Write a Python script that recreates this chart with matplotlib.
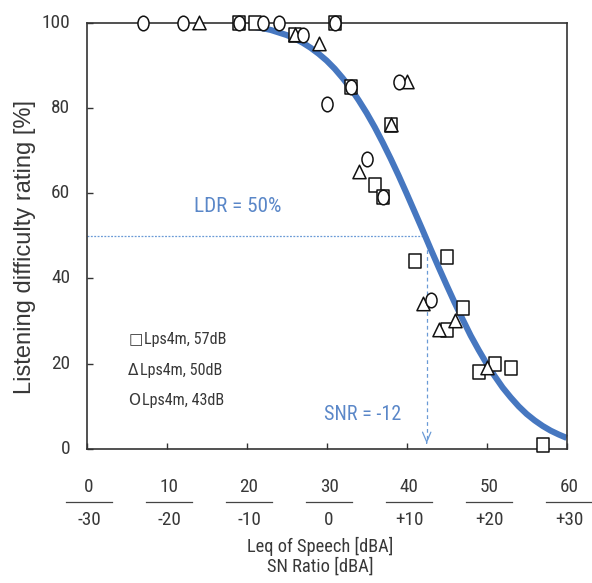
import matplotlib
matplotlib.use("Agg")
import matplotlib.pyplot as plt
from matplotlib.path import Path
from matplotlib.textpath import TextPath
from matplotlib import font_manager
from matplotlib.font_manager import FontProperties

# ---- data -------------------------------------------------------------
# Lps4m 57 dB (squares)
sq_x = [19, 21, 26, 31, 33, 36, 37, 38, 41, 45, 45, 47, 49, 51, 53, 57]
sq_y = [100, 100, 97, 100, 85, 62, 59, 76, 44, 45, 28, 33, 18, 20, 19, 1]
# Lps4m 50 dB (triangles)
tri_x = [14, 26, 29, 34, 38, 40, 42, 44, 46, 50]
tri_y = [100, 97, 95, 65, 76, 86, 34, 28, 30, 19]
# Lps4m 43 dB (circles)
cir_x = [7, 12, 19, 22, 24, 27, 30, 31, 33, 35, 37, 39, 43]
cir_y = [100, 100, 100, 100, 100, 97, 81, 100, 85, 68, 59, 86, 35]

# fitted listening-difficulty curve
curve_x = [21, 22, 23, 24, 25, 26, 27, 28, 29, 30, 31, 32, 33, 34, 35, 36,
           37, 38, 39, 40, 41, 42, 43, 44, 45, 46, 47, 48, 49, 50, 51, 52,
           53, 54, 55, 56, 57, 58, 59, 60]
curve_y = [99.0, 98.7, 98.3, 97.7, 97.1, 96.3, 95.3, 94.1, 92.7, 91.1, 89.2,
           87.0, 84.6, 81.8, 78.8, 75.5, 71.9, 68.1, 64.1, 59.9, 55.6, 51.3,
           46.9, 42.6, 38.4, 34.3, 30.4, 26.6, 23.2, 20.0, 17.1, 14.4, 12.1,
           10.0, 8.2, 6.7, 5.4, 4.3, 3.4, 2.6]

ldr_level = 50          # LDR = 50 %
leq_at_ldr = 42.5       # Leq of speech where the curve crosses 50 %

leq_ticks = [0, 10, 20, 30, 40, 50, 60]
leq_labels = ["0", "10", "20", "30", "40", "50", "60"]
snr_labels = ["-30", "-20", "-10", "0", "+10", "+20", "+30"]
y_ticks = [0, 20, 40, 60, 80, 100]

legend_marks = ["\u25a1", "\u0394", "O"]
legend_labels = ["Lps4m, 57dB", "Lps4m, 50dB", "Lps4m, 43dB"]


# ---- fonts --------------------------------------------------------------
def narrow_font():
    """Return a condensed sans font file if one is installed, else None."""
    prefs = ["Liberation Sans Narrow", "Noto Sans", "Open Sans", "Roboto",
             "DejaVu Sans", "Lato", "Inter"]
    found = []
    for f in font_manager.fontManager.ttflist:
        narrow = ("Narrow" in f.name or "Condensed" in f.name
                  or f.stretch in ("condensed", "semi-condensed"))
        if not narrow or f.style != "normal":
            continue
        if f.weight not in (400, "normal", "regular", "book"):
            continue
        if "Extra" in f.name or "Ultra" in f.name:
            continue
        rank = next((i for i, p in enumerate(prefs) if f.name.startswith(p)),
                    len(prefs))
        found.append((rank, f.fname))
    if found:
        return sorted(found)[0][1]
    return None


NARROW_FILE = narrow_font()


def fp(size):
    if NARROW_FILE:
        return FontProperties(fname=NARROW_FILE, size=size)
    return FontProperties(family="Liberation Sans", size=size)


# cap height of the chosen face, as a fraction of the font size
CAP_EM = TextPath((0, 0), "H", size=1, prop=fp(1)).get_extents().height
PX_PER_PT = 100 / 72

SYM = FontProperties(family="DejaVu Sans", size=11)

TXT = "#383838"
BLUE = "#4677c0"
BLUE_TXT = "#5a87c8"
BLUE_LINE = "#6a9ad6"

# ---- marker shapes (slightly narrow) -------------------------------------
sx = 0.76
circ = Path.unit_circle()
ellipse_marker = Path(circ.vertices * [sx, 1.0], circ.codes)
rect_marker = Path([(-sx, -1), (sx, -1), (sx, 1), (-sx, 1), (-sx, -1)],
                   [Path.MOVETO, Path.LINETO, Path.LINETO, Path.LINETO,
                    Path.CLOSEPOLY])
tri_marker = Path([(0, 1), (-0.9, -0.85), (0.9, -0.85), (0, 1)],
                  [Path.MOVETO, Path.LINETO, Path.LINETO, Path.CLOSEPOLY])

# ---- figure -------------------------------------------------------------
fig = plt.figure(figsize=(5.92, 5.83), dpi=100)
ax = fig.add_axes([86.7 / 592, 1 - 449 / 583, 480 / 592, 426.3 / 583])
ax.set_xlim(0, 60)
ax.set_ylim(0, 100)

for s in ax.spines.values():
    s.set_linewidth(1.2)
    s.set_color("#333333")

ax.set_xticks(leq_ticks)
ax.set_xticklabels([])
ax.set_yticks(y_ticks)
ax.set_yticklabels([])
ax.tick_params(axis="both", direction="in", length=4.5, width=1.0,
               color="#333333")

# y tick labels as texts so their size can be fitted
ytr = ax.get_yaxis_transform()
ylabels = [ax.text(-16.5 / 480, v, str(v), transform=ytr, fontproperties=fp(14),
                   color=TXT, ha="right", va="center", clip_on=False)
           for v in y_ticks]

# fitted curve
ax.plot(curve_x, curve_y, color=BLUE, lw=4.4, solid_capstyle="butt",
        zorder=2, clip_on=False)

# guide lines for LDR = 50 %
ax.plot([0, leq_at_ldr], [ldr_level, ldr_level], color=BLUE_LINE, lw=0.9,
        linestyle=(0, (1.5, 1.2)), zorder=1)
ax.plot([leq_at_ldr, leq_at_ldr], [ldr_level, 1.6], color=BLUE_LINE, lw=0.9,
        linestyle=(0, (3, 2.5)), zorder=1)
ax.annotate("", xy=(leq_at_ldr, 1.3), xytext=(leq_at_ldr, 1.45),
            arrowprops=dict(arrowstyle="->,head_length=0.7,head_width=0.3",
                            color=BLUE_LINE, lw=0.9), zorder=1)

# measured points
mk = dict(linestyle="none", markerfacecolor="white", markeredgecolor="#111111",
          markeredgewidth=1.1, clip_on=False, zorder=3)
ax.plot(sq_x, sq_y, marker=rect_marker, markersize=10.5, **mk)
ax.plot(tri_x, tri_y, marker=tri_marker, markersize=10.5, **mk)
ax.plot(cir_x, cir_y, marker=ellipse_marker, markersize=10.5, **mk)

# annotations
t_ldr = ax.text(18.9, 56.8, "LDR = 50%", fontproperties=fp(14.5),
                color=BLUE_TXT, ha="center", va="center")
t_snr = ax.text(34.5, 8.0, "SNR = -12", fontproperties=fp(14.5),
                color=BLUE_TXT, ha="center", va="center")

# legend written as text: symbol + label
leg_sym, leg_txt = [], []
for i, (m, lab) in enumerate(zip(legend_marks, legend_labels)):
    yy = 25.7 - i * 7.2
    leg_sym.append(ax.text(5.2, yy, m, fontproperties=SYM, color=TXT,
                           ha="left", va="center"))
    leg_txt.append(ax.text(6.8, yy, lab, fontproperties=fp(12), color=TXT,
                           ha="left", va="center"))

# two-level x tick labels: Leq of speech over SN ratio
xt = ax.get_xaxis_transform()
top_txt, bot_txt = [], []
for x, top, bot in zip(leq_ticks, leq_labels, snr_labels):
    top_txt.append(ax.text(x + 0.3, -0.088, top, transform=xt,
                           fontproperties=fp(14), color=TXT, ha="center",
                           va="center", clip_on=False))
    ax.plot([x + 0.3 - 2.85, x + 0.3 + 2.85], [-0.1236, -0.1236],
            transform=xt, color="#444444", lw=0.9, clip_on=False)
    bot_txt.append(ax.text(x + 0.3, -0.1666, bot, transform=xt,
                           fontproperties=fp(14), color=TXT, ha="center",
                           va="center", clip_on=False))

t_leq = ax.text(29.2, -0.229, "Leq of Speech [dBA]", transform=xt,
                fontproperties=fp(13.5), color=TXT, ha="center", va="center")
t_snr_ax = ax.text(29.2, -0.276, "SN Ratio [dBA]", transform=xt,
                   fontproperties=fp(13.5), color=TXT, ha="center",
                   va="center")

t_ylab = fig.text(25 / 592, 1 - 246.7 / 583, "Listening difficulty rating [%]",
                  fontproperties=FontProperties(family="Liberation Sans",
                                                size=16.5),
                  color=TXT, rotation=90, ha="center", va="center")

# ---- size the texts between their pixel width and their letter height ----
fig.canvas.draw()
rend = fig.canvas.get_renderer()


def fit_group(group, ref, width_px, cap_px, w_weight=0.6):
    size_w = ref.get_fontsize() * width_px / ref.get_window_extent(rend).width
    size_h = cap_px / (CAP_EM * PX_PER_PT)
    size = size_w ** w_weight * size_h ** (1 - w_weight)
    for t in group:
        t.set_fontsize(size)


fit_group([t_ldr], t_ldr, 87, 15)
fit_group([t_snr], t_snr, 80, 13.5)
fit_group(leg_txt, leg_txt[0], 78, 12.5)
fit_group([t_leq], t_leq, 133, 15)
fit_group([t_snr_ax], t_snr_ax, 97, 15)
fit_group(ylabels, ylabels[-1], 27, 15)
fit_group(top_txt + bot_txt, bot_txt[0], 24, 13.5)

k = 293 / t_ylab.get_window_extent(rend).height
t_ylab.set_fontsize(t_ylab.get_fontsize() * k)

# legend labels start just after their symbols
fig.canvas.draw()
inv = ax.transData.inverted()
for sym, lab in zip(leg_sym, leg_txt):
    bb = sym.get_window_extent(rend)
    x_data = inv.transform((bb.x1 + 1.5, bb.y0))[0]
    lab.set_x(x_data)

fig.savefig("out.png", dpi=100)
